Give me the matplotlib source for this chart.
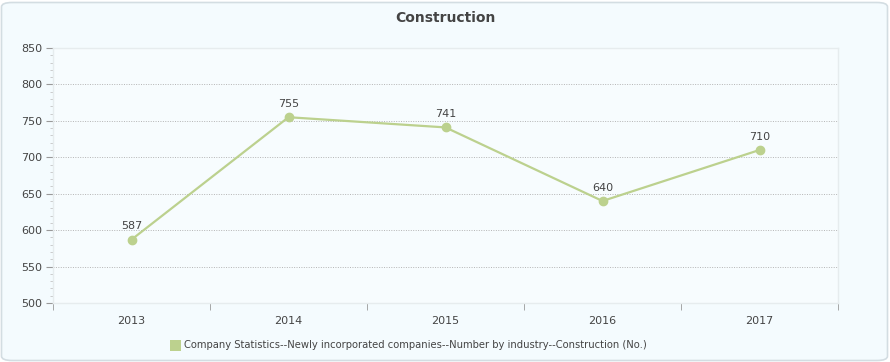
import matplotlib

matplotlib.use("Agg")
import matplotlib.pyplot as plt
from matplotlib.patches import FancyBboxPatch
from matplotlib.ticker import MultipleLocator

years = ["2013", "2014", "2015", "2016", "2017"]
companies = [587, 755, 741, 640, 710]
series_label = ("Company Statistics--Newly incorporated companies--"
                "Number by industry--Construction (No.)")

LINE = "#bcd18e"
TEXT = "#444444"

W, H = 890, 362
fig = plt.figure(figsize=(W / 100, H / 100), dpi=100)
fig.patch.set_facecolor("white")

# rounded panel behind everything
panel = FancyBboxPatch((1.5 / W, 1.5 / H), (W - 4) / W, (H - 4) / H,
                       boxstyle="round,pad=0,rounding_size=0.012",
                       transform=fig.transFigure, fc="#f4fbfe", ec="#d3dde2",
                       lw=1.2, zorder=-5)
fig.patches.append(panel)

ax = fig.add_axes([53 / W, 1 - 303 / H, (838 - 53) / W, (303 - 48) / H])
ax.set_zorder(2)
ax.set_facecolor("#f7fcfe")

x = range(len(years))
ax.plot(x, companies, color=LINE, lw=1.6, marker="o", ms=6, zorder=3,
        clip_on=False)
for xi, v in zip(x, companies):
    ax.annotate(str(v), (xi, v), xytext=(0, 6), textcoords="offset points",
                ha="center", va="bottom", fontsize=8, color=TEXT)

ax.set_xlim(-0.5, len(years) - 0.5)
ax.set_ylim(500, 850)
ax.yaxis.set_major_locator(MultipleLocator(50))
ax.yaxis.set_minor_locator(MultipleLocator(10))
ax.set_xticks(list(x))
ax.set_xticklabels(years)
ax.set_xticks([i - 0.5 for i in range(len(years) + 1)], minor=True)
ax.tick_params(axis="x", which="major", length=0, pad=9, labelsize=8,
               labelcolor=TEXT)
ax.tick_params(axis="x", which="minor", length=5, color="#999999",
               direction="out")
ax.tick_params(axis="y", which="major", length=5, color="#999999",
               labelsize=8, labelcolor=TEXT, pad=3)
ax.tick_params(axis="y", which="minor", length=2.5, color="#c4c4c4")
ax.grid(axis="y", which="major", ls=(0, (1, 1.5)), color="#b4b4b4", lw=0.7)
ax.set_axisbelow(True)
for side in ("left", "bottom", "top", "right"):
    ax.spines[side].set_color("#e6ecee")
    ax.spines[side].set_linewidth(1)

fig.text(0.5, 1 - 18 / H, "Construction", ha="center", va="center",
         fontsize=10, fontweight="bold", color="#444444")

# legend
fig.patches.append(plt.Rectangle((170 / W, 1 - 351 / H), 11 / W, 11 / H,
                                 transform=fig.transFigure, fc=LINE, ec="none"))
fig.text(184 / W, 1 - 345.5 / H, series_label, ha="left", va="center",
         fontsize=7.2, color=TEXT)

fig.savefig("out.png", dpi=100, facecolor=fig.get_facecolor())
